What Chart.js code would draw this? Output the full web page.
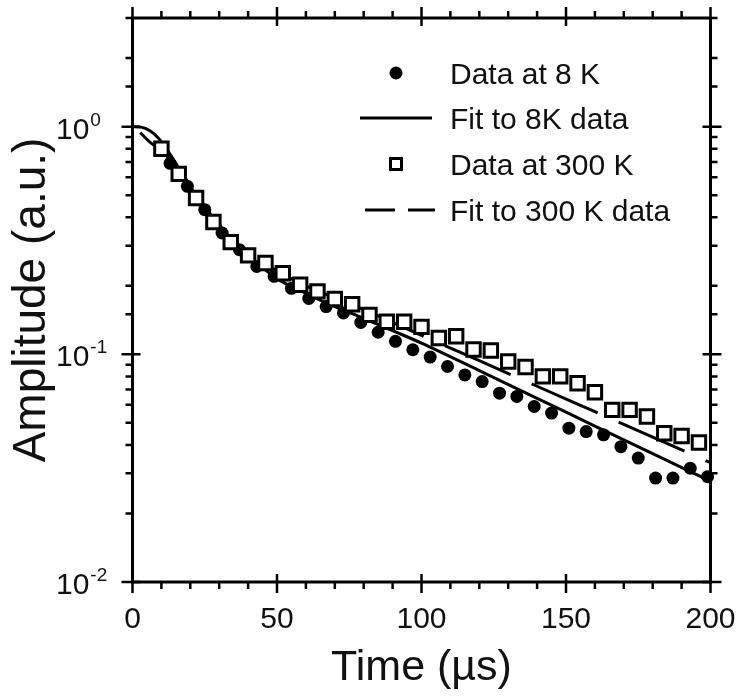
<!DOCTYPE html>
<html><head><meta charset="utf-8">
<script src="https://cdn.jsdelivr.net/npm/chart.js@4/dist/chart.umd.min.js"></script>
<style>html,body{margin:0;padding:0;background:#fff;}#wrap{width:738px;height:698px;}</style>
</head><body><div id="wrap"><canvas id="c" width="738" height="698"></canvas></div>
<script>
const seriesLabels = ['Data at 8 K', 'Fit to 8K data', 'Data at 300 K', 'Fit to 300 K data'];
const xTitle = 'Time (\u00b5s)';
const yTitle = 'Amplitude (a.u.)';
const xTickValues = [0, 50, 100, 150, 200];
const yTickValues = [0.01, 0.1, 1];
const yTickExponents = ['-2', '-1', '0'];

const time8K = [13,19,25,31,37,43,49,55,61,67,73,79,85,91,97,103,109,115,121,127,133,139,145,151,157,163,169,175,181,187,193,199];
const amp8K = [0.69,0.547,0.432,0.341,0.288,0.243,0.22,0.195,0.176,0.162,0.152,0.138,0.125,0.114,0.1047,0.0972,0.0884,0.0812,0.0759,0.0675,0.0653,0.059,0.0552,0.0474,0.0458,0.0443,0.0393,0.035,0.0286,0.0286,0.0316,0.029];

const time300K = [10,16,22,28,34,40,46,52,58,64,70,76,82,88,94,100,106,112,118,124,130,136,142,148,154,160,166,172,178,184,190,196];
const amp300K = [0.80,0.62,0.486,0.381,0.311,0.272,0.252,0.227,0.202,0.189,0.175,0.166,0.149,0.139,0.139,0.132,0.118,0.120,0.105,0.104,0.093,0.088,0.080,0.080,0.0747,0.0682,0.057,0.057,0.0533,0.045,0.0438,0.041];

const fitTime8K = [0,3,6,9,12,15,18,21,25,30,35,40,50,60,70,80,90,100,120,140,160,180,200];
const fitAmp8K = [1,0.995,0.96,0.89,0.79,0.69,0.6,0.52,0.435,0.36,0.305,0.27,0.215,0.185,0.162,0.144,0.127,0.112,0.0848,0.0641,0.0484,0.0366,0.0277];

const fitTime300K = [0,2,4,6,9,12,15,18,21,25,30,35,40,50,60,70,80,90,100,120,140,160,180,200];
const fitAmp300K = [1,0.96,0.905,0.855,0.8,0.74,0.67,0.6,0.525,0.445,0.37,0.315,0.28,0.232,0.2,0.177,0.157,0.138,0.121,0.0938,0.0724,0.056,0.0433,0.0334];

const FONT = "'Liberation Sans', Arial, sans-serif";
const INK = '#111';
const pts = (xs, ys) => xs.map((x, i) => ({x: x, y: ys[i]}));

const axesPlugin = {
  id: 'axesPlugin',
  beforeDatasetsDraw(chart) {
    const {ctx, chartArea: a, scales: {x, y}} = chart;
    ctx.save();
    ctx.strokeStyle = '#000';
    ctx.lineWidth = 3;
    ctx.strokeRect(a.left, a.top, a.right - a.left, a.bottom - a.top);
    ctx.lineWidth = 2.5;
    ctx.beginPath();
    for (let v = 0; v <= 200; v += 10) {
      const px = x.getPixelForValue(v);
      const major = v % 50 === 0;
      ctx.moveTo(px, a.bottom + (major ? 11 : 7)); ctx.lineTo(px, major ? a.bottom - 8 : a.bottom);
      ctx.moveTo(px, a.top - (major ? 11 : 7)); ctx.lineTo(px, major ? a.top + 8 : a.top);
    }
    y.ticks.forEach(t => {
      const v = t.value;
      const py = y.getPixelForValue(v);
      const major = Math.abs(Math.log10(v) - Math.round(Math.log10(v))) < 1e-6;
      ctx.moveTo(a.left - (major ? 11 : 7), py); ctx.lineTo(major ? a.left + 8 : a.left, py);
      ctx.moveTo(a.right + (major ? 11 : 7), py); ctx.lineTo(major ? a.right - 8 : a.right, py);
    });
    ctx.stroke();
    ctx.fillStyle = INK;
    ctx.textBaseline = 'alphabetic';
    ctx.textAlign = 'left';
    yTickValues.forEach((v, i) => {
      const py = y.getPixelForValue(v);
      ctx.font = '30px ' + FONT;
      ctx.fillText('10', 56, py + 12);
      const w = ctx.measureText('10').width;
      ctx.font = '19px ' + FONT;
      ctx.fillText(yTickExponents[i], 56 + w + 1, py - 1);
    });
    ctx.restore();
  },
  afterDraw(chart) {
    const {ctx} = chart;
    ctx.save();
    ctx.strokeStyle = '#000';
    ctx.fillStyle = '#000';
    const rows = [73, 118, 164, 210];
    ctx.beginPath(); ctx.arc(396, rows[0], 6.5, 0, Math.PI * 2); ctx.fill();
    ctx.lineWidth = 3;
    ctx.beginPath(); ctx.moveTo(360, rows[1]); ctx.lineTo(432, rows[1]); ctx.stroke();
    ctx.fillStyle = '#fff';
    ctx.fillRect(390.5, rows[2] - 5.5, 11, 11);
    ctx.strokeRect(390.5, rows[2] - 5.5, 11, 11);
    ctx.setLineDash([30, 13]);
    ctx.beginPath(); ctx.moveTo(365, rows[3]); ctx.lineTo(435, rows[3]); ctx.stroke();
    ctx.setLineDash([]);
    ctx.fillStyle = INK;
    ctx.font = '30px ' + FONT;
    ctx.textBaseline = 'alphabetic';
    seriesLabels.forEach((s, i) => ctx.fillText(s, 450, rows[i] + 11));
    ctx.restore();
  }
};

new Chart(document.getElementById('c'), {
  type: 'scatter',
  data: {
    datasets: [
      {label: seriesLabels[2], data: pts(time300K, amp300K), pointStyle: 'rect', pointRadius: 9.5,
       backgroundColor: '#fff', borderColor: '#000', borderWidth: 3, order: 1, clip: false},
      {label: seriesLabels[0], data: pts(time8K, amp8K), pointStyle: 'circle', pointRadius: 6.5,
       backgroundColor: '#000', borderColor: '#000', borderWidth: 0, order: 2, clip: false},
      {label: seriesLabels[1], data: pts(fitTime8K, fitAmp8K), showLine: true, pointRadius: 0,
       borderColor: '#000', borderWidth: 3, cubicInterpolationMode: 'monotone', order: 3},
      {label: seriesLabels[3], data: pts(fitTime300K, fitAmp300K), showLine: true, pointRadius: 0,
       borderColor: '#000', borderWidth: 3, borderDash: [72, 23], borderDashOffset: 85,
       cubicInterpolationMode: 'monotone', order: 4}
    ]
  },
  options: {
    responsive: false,
    animation: false,
    devicePixelRatio: 1,
    layout: {padding: {top: 18, right: 27.5, left: 0, bottom: 0}},
    plugins: {legend: {display: false}, tooltip: {enabled: false}},
    scales: {
      x: {
        type: 'linear', min: 0, max: 200,
        afterBuildTicks: s => { s.ticks = xTickValues.map(v => ({value: v})); },
        ticks: {font: {family: FONT, size: 30}, color: INK, padding: 20, maxRotation: 0,
                callback: v => String(v)},
        grid: {display: false, drawTicks: false},
        border: {display: false},
        title: {display: true, text: xTitle, font: {family: FONT, size: 43}, color: INK,
                padding: {top: 0, bottom: 4}},
        afterFit: s => { s.height = 116; s.paddingLeft = 0; s.paddingRight = 0; }
      },
      y: {
        type: 'logarithmic', min: 0.01, max: 3,
        ticks: {display: false},
        grid: {display: false, drawTicks: false},
        border: {display: false},
        title: {display: true, text: yTitle, font: {family: FONT, size: 46}, color: INK,
                padding: {top: 5, bottom: 0}},
        afterFit: s => { s.width = 132.5; s.paddingTop = 0; s.paddingBottom = 0; }
      }
    }
  },
  plugins: [axesPlugin]
});
</script>
</body></html>
